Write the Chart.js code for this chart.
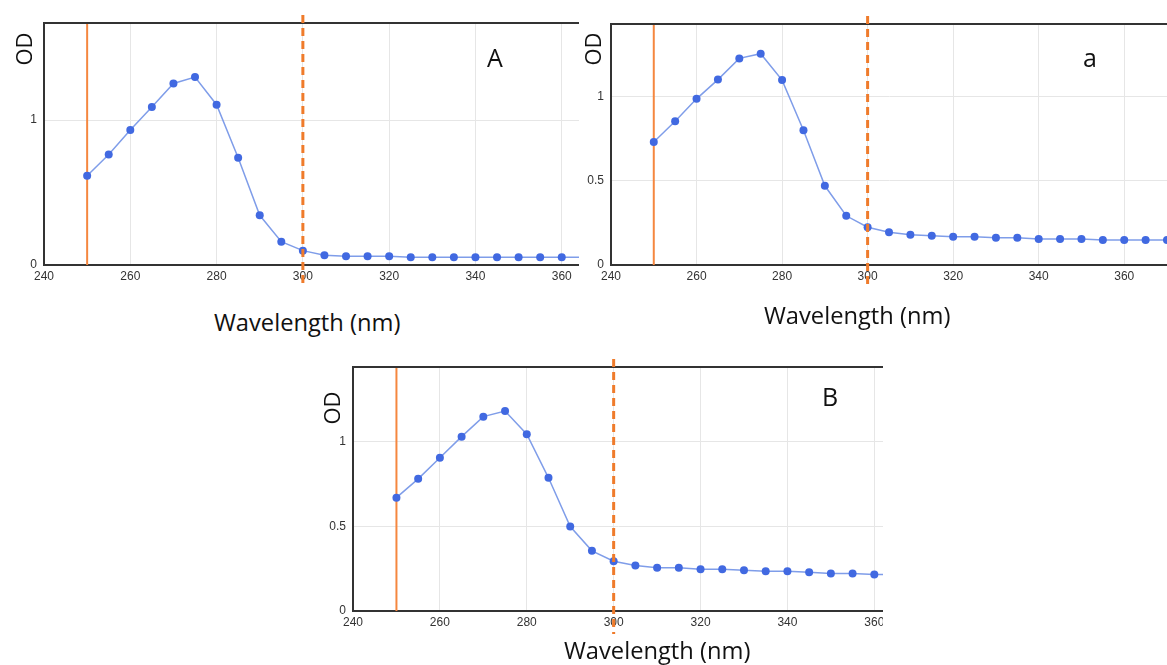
<!DOCTYPE html>
<html>
<head>
<meta charset="utf-8">
<script src="https://cdn.jsdelivr.net/npm/chart.js@4.4.1/dist/chart.umd.min.js"></script>
<style>
    body { margin: 0; background: #fff; width: 1167px; height: 665px; overflow: hidden; position: relative; }
    canvas { position: absolute; }
    .lbl { position: absolute; font-family: "Open Sans", sans-serif; color: #111; line-height: 1; white-space: nowrap; }
    .od { width: 40px; height: 24px; line-height: 24px; text-align: center; font-size: 22px; transform: rotate(-90deg); }
</style>
</head>
<body>
<canvas id="chartA" width="579" height="300" style="left:0;top:0"></canvas>
<canvas id="chartSmallA" width="587" height="300" style="left:580px;top:0"></canvas>
<canvas id="chartB" width="573" height="300" style="left:310px;top:355px"></canvas>

<div class="lbl od" style="left:3px;top:37px">OD</div>
<div class="lbl od" style="left:572px;top:37px">OD</div>
<div class="lbl od" style="left:311px;top:396px">OD</div>

<div class="lbl" style="left:487px;top:45px;font-size:25px">A</div>
<div class="lbl" style="left:1083px;top:45px;font-size:25px">a</div>
<div class="lbl" style="left:822px;top:384px;font-size:25px">B</div>

<div class="lbl" style="left:214px;top:311px;font-size:23.7px">Wavelength (nm)</div>
<div class="lbl" style="left:764px;top:304px;font-size:23.7px">Wavelength (nm)</div>
<div class="lbl" style="left:564px;top:639px;font-size:23.7px">Wavelength (nm)</div>

<script>
// 数据
var wavelengthsA = [250, 255, 260, 265, 270, 275, 280, 285, 290, 295, 300, 305, 310, 315, 320, 325, 330, 335, 340, 345, 350, 355, 360, 365];
var odA = [0.616, 0.763, 0.931, 1.09, 1.253, 1.297, 1.106, 0.74, 0.343, 0.161, 0.099, 0.067, 0.06, 0.06, 0.06, 0.053, 0.053, 0.053, 0.053, 0.053, 0.053, 0.053, 0.053, 0.053];

var wavelengthsSmallA = [250, 255, 260, 265, 270, 275, 280, 285, 290, 295, 300, 305, 310, 315, 320, 325, 330, 335, 340, 345, 350, 355, 360, 365, 370];
var odSmallA = [0.73, 0.853, 0.986, 1.10, 1.226, 1.254, 1.097, 0.80, 0.47, 0.292, 0.224, 0.195, 0.18, 0.174, 0.167, 0.167, 0.161, 0.161, 0.155, 0.155, 0.155, 0.149, 0.149, 0.149, 0.149];

var wavelengthsB = [250, 255, 260, 265, 270, 275, 280, 285, 290, 295, 300, 305, 310, 315, 320, 325, 330, 335, 340, 345, 350, 355, 360, 365];
var odB = [0.669, 0.78, 0.904, 1.029, 1.147, 1.18, 1.043, 0.786, 0.498, 0.355, 0.294, 0.269, 0.255, 0.255, 0.247, 0.247, 0.241, 0.235, 0.235, 0.229, 0.222, 0.222, 0.216, 0.214];

// 刻度
var xTicks = [240, 260, 280, 300, 320, 340, 360];
var yTicksA = [0, 1];
var yTicksSmallA = [0, 0.5, 1];
var yTicksB = [0, 0.5, 1];

// 竖线位置
var markerSolid = 250;
var markerDashed = 300;

var markerPlugin = {
    id: 'markers',
    beforeDatasetsDraw: function (chart) {
        var ctx = chart.ctx, area = chart.chartArea;
        var x = chart.scales.x.getPixelForValue(markerSolid);
        ctx.save();
        ctx.strokeStyle = '#f5873f';
        ctx.lineWidth = 2;
        ctx.beginPath();
        ctx.moveTo(x, area.top);
        ctx.lineTo(x, area.bottom);
        ctx.stroke();
        // 顶边框
        ctx.strokeStyle = '#333';
        ctx.lineWidth = 2;
        ctx.beginPath();
        ctx.moveTo(area.left, area.top);
        ctx.lineTo(area.right, area.top);
        ctx.stroke();
        ctx.restore();
    },
    afterDatasetsDraw: function (chart) {
        var ctx = chart.ctx, area = chart.chartArea;
        var x = chart.scales.x.getPixelForValue(markerDashed);
        ctx.save();
        ctx.strokeStyle = '#ef7b2b';
        ctx.lineWidth = 3;
        ctx.setLineDash([8, 5]);
        ctx.beginPath();
        ctx.moveTo(x, area.top - 8);
        ctx.lineTo(x, area.bottom + 23);
        ctx.stroke();
        ctx.restore();
    }
};

function noPadding(s) {
    s.paddingLeft = 0;
    s.paddingRight = 0;
    s.paddingTop = 0;
    s.paddingBottom = 0;
}

function makeChart(id, xs, ys, xMax, yMax, yTicks, yWidth, padTop, xHeight) {
    var points = xs.map(function (x, i) { return {x: x, y: ys[i]}; });
    var tickFont = {family: '"Liberation Sans", Arial, sans-serif', size: 12};
    return new Chart(document.getElementById(id), {
        type: 'line',
        data: {
            datasets: [{
                data: points,
                borderColor: '#7f9de9',
                borderWidth: 1.5,
                pointRadius: 4,
                pointBackgroundColor: '#4169e1',
                pointBorderColor: '#4169e1',
                pointBorderWidth: 0,
                tension: 0
            }]
        },
        options: {
            responsive: false,
            animation: false,
            layout: {autoPadding: false, padding: {top: padTop, left: 0, right: 0, bottom: 0}},
            plugins: {legend: {display: false}, tooltip: {enabled: false}},
            scales: {
                x: {
                    type: 'linear',
                    min: 240,
                    max: xMax,
                    afterBuildTicks: function (s) { s.ticks = xTicks.map(function (v) { return {value: v}; }); },
                    afterFit: function (s) { s.height = xHeight; noPadding(s); },
                    grid: {color: '#e6e6e6', drawTicks: false},
                    border: {color: '#333', width: 2},
                    ticks: {padding: 4, autoSkip: false, maxRotation: 0, color: '#333', font: tickFont}
                },
                y: {
                    min: 0,
                    max: yMax,
                    afterBuildTicks: function (s) { s.ticks = yTicks.map(function (v) { return {value: v}; }); },
                    afterFit: function (s) { s.width = yWidth; noPadding(s); },
                    grid: {color: '#e6e6e6', drawTicks: false},
                    border: {color: '#333', width: 2},
                    ticks: {
                        padding: 7, color: '#333', font: tickFont,
                        callback: function (v) { return String(v); }
                    }
                }
            }
        },
        plugins: [markerPlugin]
    });
}

makeChart('chartA', wavelengthsA, odA, 364, 1.67, yTicksA, 44, 23, 35);
makeChart('chartSmallA', wavelengthsSmallA, odSmallA, 370, 1.43, yTicksSmallA, 31, 24, 35);
makeChart('chartB', wavelengthsB, odB, 362, 1.44, yTicksB, 43, 12, 44);
</script>
</body>
</html>
